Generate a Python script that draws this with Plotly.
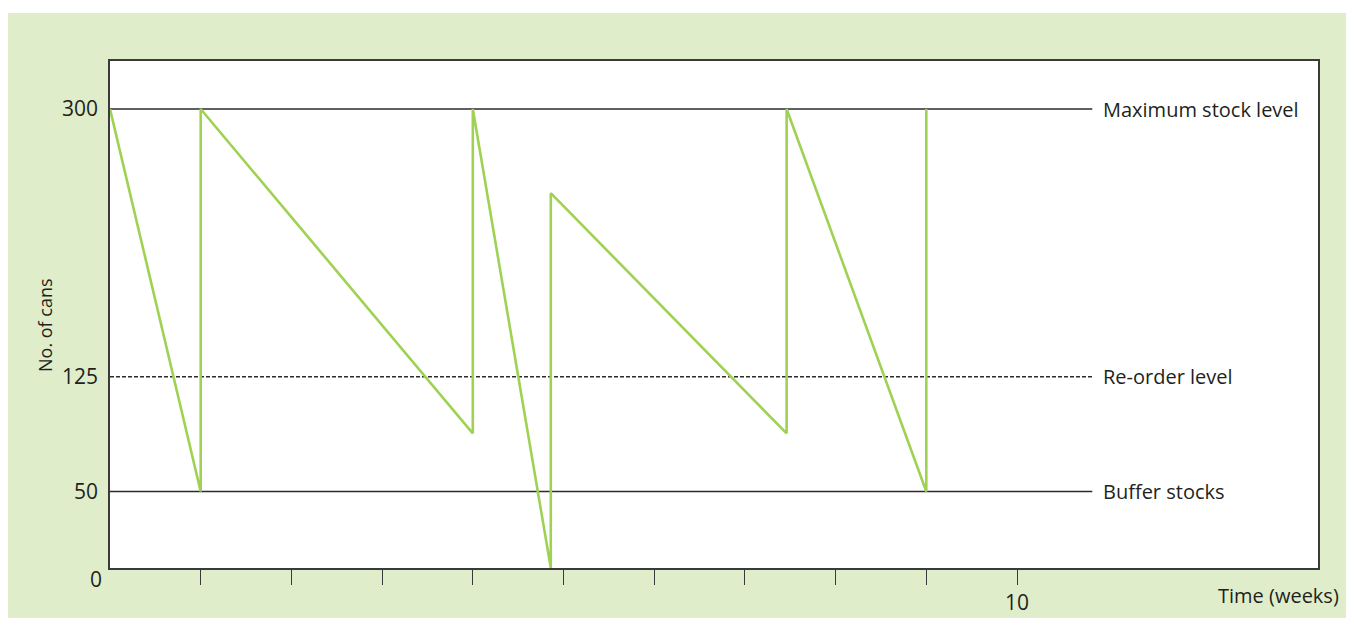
import plotly.graph_objects as go

# ---- data ----
weeks = [0, 1, 1, 4, 4, 4.86, 4.86, 7.46, 7.46, 9, 9]
stock = [300, 50, 300, 88, 300, 0, 245, 88, 300, 50, 300]

level_names = ["Maximum stock level", "Re-order level", "Buffer stocks"]
level_values = [300, 125, 50]
level_dash = ["solid", "4px,2px", "solid"]
level_end_week = 10.83

x_tick_vals = [1, 2, 3, 4, 5, 6, 7, 8, 9, 10]
x_tick_text = ["", "", "", "", "", "", "", "", "", "10"]
y_tick_vals = [50, 125, 300]
y_tick_text = ["50", "125", "300"]

# ---- layout geometry (figure sits inside the page's 8px body margin) ----
OFF = 8
W, H = 1354 - 2 * OFF, 626 - 2 * OFF
L, T = 110 - OFF, 61 - OFF
R = W - (1318 - OFF)
B = H - (568 - OFF)
pw, ph = W - L - R, H - T - B


def px(xp):  # page x -> paper x
    return (xp - OFF - L) / pw


def py(yp):  # page y -> paper y
    return (H - B - (yp - OFF)) / ph


FONT = "Open Sans"
TXT = "#231f20"
GREEN_BG = "#dfedca"
LINE_GREEN = "#9fd253"

fig = go.Figure()

for name, val, dash in zip(level_names, level_values, level_dash):
    fig.add_trace(go.Scatter(
        x=[0, level_end_week], y=[val, val], mode="lines",
        line=dict(color="#2b2b2b", width=1.4, dash=dash),
        hoverinfo="skip", showlegend=False))
    fig.add_annotation(x=level_end_week + 0.1, y=val, text=name,
                       xanchor="left", yanchor="middle", showarrow=False,
                       font=dict(family=FONT, size=20, color=TXT))

fig.add_trace(go.Scatter(
    x=weeks, y=stock, mode="lines",
    line=dict(color=LINE_GREEN, width=2.6),
    showlegend=False))

# background panel and white plot area
fig.add_shape(type="rect", xref="paper", yref="paper",
              x0=px(0), x1=px(1400), y0=py(700), y1=py(13),
              fillcolor=GREEN_BG, line=dict(width=0), layer="below")
fig.add_shape(type="rect", xref="paper", yref="paper",
              x0=0, x1=1, y0=0, y1=1,
              fillcolor="white", line=dict(width=0), layer="below")

fig.add_annotation(xref="paper", yref="paper", x=px(45), y=py(325),
                   text="No. of cans", textangle=-90, showarrow=False,
                   xanchor="center", yanchor="middle",
                   font=dict(family=FONT, size=18, color=TXT))
fig.add_annotation(xref="paper", yref="paper", x=px(104), y=py(579),
                   text="0", showarrow=False, xanchor="right", yanchor="middle",
                   font=dict(family=FONT, size=21, color=TXT))
fig.add_annotation(xref="paper", yref="paper", x=px(1341), y=py(595),
                   text="Time (weeks)", showarrow=False, xanchor="right", yanchor="middle",
                   font=dict(family=FONT, size=20, color=TXT))

fig.update_layout(
    width=W, height=H,
    margin=dict(l=L, r=R, t=T, b=B, pad=0, autoexpand=False),
    paper_bgcolor="white", plot_bgcolor="white",
    xaxis=dict(range=[0, pw / 90.7], tickvals=x_tick_vals, ticktext=x_tick_text,
               ticks="outside", ticklen=15, tickwidth=1.4, tickcolor="#3a3a3a",
               showgrid=False, zeroline=False, showline=True, linecolor="#3a3a3a",
               linewidth=1.5, mirror=True, ticklabelstandoff=0, automargin=False,
               tickfont=dict(family=FONT, size=21, color=TXT)),
    yaxis=dict(range=[0, ph / 1.53], tickvals=y_tick_vals, ticktext=y_tick_text,
               ticks="", showgrid=False, zeroline=False, showline=True,
               linecolor="#3a3a3a", linewidth=1.5, mirror=True,
               ticklabelstandoff=6, automargin=False,
               tickfont=dict(family=FONT, size=21, color=TXT)),
)

fig.write_html("out.html")
